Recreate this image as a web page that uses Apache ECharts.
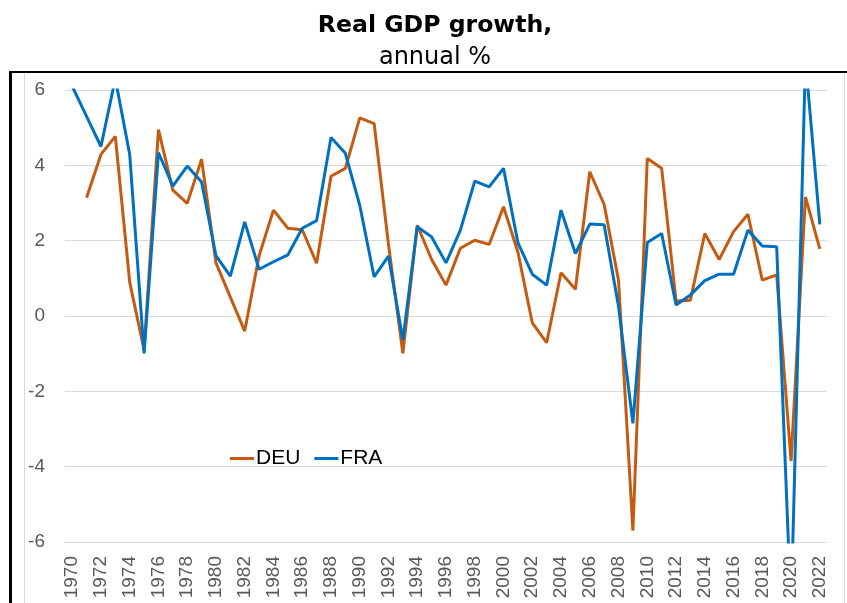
<!DOCTYPE html>
<html>
<head>
<meta charset="utf-8">
<script src="https://cdn.jsdelivr.net/npm/echarts@6/dist/echarts.min.js"></script>
<style>html,body{margin:0;padding:0;background:#fff}#c{width:847px;height:603px}</style>
</head>
<body>
<div id="c"></div>
<script>
const years = [];
for (let y = 1970; y <= 2022; y++) years.push(String(y));

const deu = [null, 3.14, 4.29, 4.77, 0.9, -0.9, 4.95, 3.34, 2.99, 4.16,
  1.41, 0.5, -0.4, 1.6, 2.81, 2.33, 2.29, 1.4, 3.71, 3.92,
  5.26, 5.11, 1.9, -0.99, 2.41, 1.5, 0.82, 1.8, 2.01, 1.9,
  2.9, 1.7, -0.18, -0.71, 1.15, 0.71, 3.83, 2.96, 0.95, -5.7,
  4.18, 3.92, 0.4, 0.42, 2.19, 1.5, 2.24, 2.7, 0.95, 1.09,
  -3.85, 3.16, 1.78];

const fra = [6.1, 5.3, 4.5, 6.3, 4.29, -0.99, 4.34, 3.45, 3.98, 3.56,
  1.6, 1.06, 2.5, 1.24, 1.44, 1.62, 2.33, 2.53, 4.74, 4.32,
  2.94, 1.04, 1.59, -0.64, 2.37, 2.1, 1.41, 2.28, 3.58, 3.43,
  3.92, 1.95, 1.11, 0.82, 2.81, 1.66, 2.44, 2.42, 0.25, -2.85,
  1.95, 2.19, 0.29, 0.56, 0.94, 1.11, 1.11, 2.28, 1.86, 1.84,
  -7.8, 6.8, 2.43];

const yTicks = [-6, -4, -2, 0, 2, 4, 6];

const chart = echarts.init(document.getElementById('c'), null, {renderer: 'canvas'});
chart.setOption({
  animation: false,
  backgroundColor: '#fff',
  title: {
    text: 'Real GDP growth,',
    subtext: 'annual %',
    left: 430,
    textAlign: 'center',
    top: 9,
    itemGap: 8,
    textStyle: {fontFamily: 'DejaVu Sans', fontWeight: 'bold', fontSize: 23.6, color: '#000'},
    subtextStyle: {fontFamily: 'DejaVu Sans', fontSize: 24, color: '#000'}
  },
  graphic: [
    {type: 'rect', left: 9, top: 71, shape: {width: 3, height: 540}, style: {fill: '#000'}, silent: true},
    {type: 'rect', left: 9, top: 71, shape: {width: 838, height: 2}, style: {fill: '#000'}, silent: true},
    {type: 'rect', left: 24, top: 73, shape: {width: 1, height: 540}, style: {fill: '#d9d9d9'}, silent: true},
    {type: 'rect', left: 844, top: 73, shape: {width: 1, height: 540}, style: {fill: '#d9d9d9'}, silent: true}
  ],
  legend: {
    left: 225,
    top: 443,
    itemWidth: 24,
    itemHeight: 3,
    itemGap: 14,
    icon: 'rect',
    textStyle: {fontFamily: 'Liberation Sans', fontSize: 21, color: '#000', padding: [0, 0, 0, -3]},
    data: ['DEU', 'FRA']
  },
  grid: {left: 65, right: 20, top: 90, bottom: 61, containLabel: false},
  xAxis: {
    type: 'category',
    data: years,
    boundaryGap: true,
    axisLine: {show: false},
    axisTick: {show: false},
    axisLabel: {
      interval: 1,
      rotate: 90,
      margin: 14,
      fontFamily: 'Liberation Sans',
      fontSize: 19,
      color: '#595959'
    }
  },
  yAxis: {
    type: 'value',
    min: yTicks[0],
    max: yTicks[yTicks.length - 1],
    interval: 2,
    axisLine: {show: false},
    axisTick: {show: false},
    splitLine: {lineStyle: {color: '#d9d9d9', width: 1}},
    axisLabel: {margin: 20, fontFamily: 'Liberation Sans', fontSize: 19, color: '#595959'}
  },
  series: [
    {name: 'DEU', type: 'line', data: deu, symbol: 'none', clip: true,
     lineStyle: {width: 3, color: '#C55A11'}, itemStyle: {color: '#C55A11'}},
    {name: 'FRA', type: 'line', data: fra, symbol: 'none', clip: true,
     lineStyle: {width: 3, color: '#0070C0'}, itemStyle: {color: '#0070C0'}}
  ]
});
</script>
</body>
</html>
